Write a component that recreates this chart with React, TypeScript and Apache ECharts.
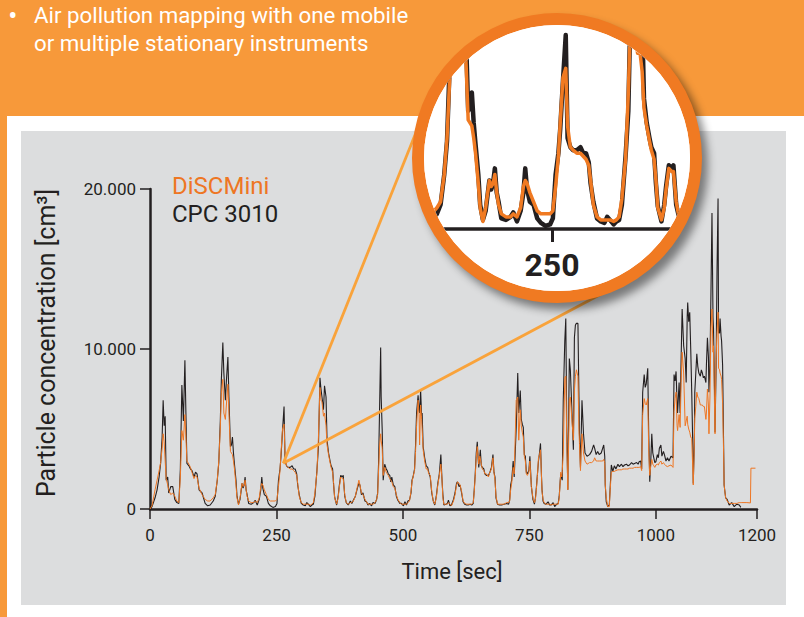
import React, { useEffect, useRef } from "react";
import * as echarts from "echarts";

// Time stamps in seconds (shared by both instruments)
const timeSec = [
  0, 4, 10, 14, 18, 21, 24, 26, 28, 30,
  32, 35, 37, 41, 45, 49, 53, 57, 60, 63,
  66, 69, 71, 73, 77, 80, 83, 87, 90, 93,
  97, 103, 109, 114, 119, 125, 129, 133, 136, 139,
  141, 144, 146, 149, 151, 154, 156, 159, 161, 163,
  165, 167, 170, 172, 175, 178, 182, 184, 186, 188,
  190, 192, 195, 200, 205, 208, 212, 216, 219, 221,
  223, 226, 230, 234, 238, 243, 248, 251, 254, 257,
  259, 262, 265, 267, 270, 273, 277, 281, 284, 287,
  290, 292, 295, 299, 303, 307, 310, 313, 317, 320,
  323, 326, 330, 333, 336, 338, 340, 343, 345, 348,
  350, 353, 356, 358, 361, 363, 365, 369, 372, 374,
  377, 380, 382, 385, 388, 392, 396, 399, 402, 406,
  410, 413, 415, 418, 421, 425, 428, 431, 434, 438,
  441, 445, 448, 450, 452, 454, 456, 457, 459, 461,
  464, 467, 469, 471, 474, 476, 478, 481, 484, 487,
  490, 494, 497, 501, 504, 507, 510, 513, 516, 518,
  520, 523, 525, 527, 530, 532, 533, 535, 537, 538,
  540, 543, 546, 549, 551, 554, 557, 560, 563, 566,
  569, 572, 575, 577, 579, 581, 585, 588, 590, 593,
  596, 600, 603, 606, 608, 611, 613, 616, 619, 622,
  626, 629, 633, 636, 639, 641, 643, 645, 647, 649,
  650, 652, 653, 655, 657, 660, 662, 665, 669, 672,
  675, 678, 680, 682, 684, 687, 691, 695, 700, 705,
  709, 711, 713, 715, 718, 720, 722, 724, 727, 729,
  732, 734, 736, 738, 740, 742, 744, 746, 749, 751,
  753, 754, 757, 760, 762, 764, 766, 768, 770, 772,
  774, 775, 777, 779, 783, 787, 790, 793, 797, 800,
  804, 807, 809, 811, 812, 814, 815, 817, 820, 822,
  824, 826, 829, 831, 834, 837, 839, 841, 843, 846,
  848, 849, 851, 854, 857, 860, 864, 869, 873, 877,
  879, 882, 885, 888, 892, 895, 897, 899, 900, 902,
  905, 908, 910, 912, 915, 918, 921, 925, 928, 932,
  935, 938, 942, 945, 948, 952, 955, 958, 962, 965,
  967, 970, 972, 974, 977, 979, 981, 984, 986, 988,
  990, 992, 994, 996, 998, 1000, 1003, 1005, 1007, 1010,
  1012, 1015, 1017, 1020, 1023, 1026, 1030, 1034, 1036, 1038,
  1040, 1042, 1043, 1046, 1048, 1050, 1052, 1055, 1058, 1060,
  1062, 1063, 1065, 1067, 1069, 1071, 1073, 1074, 1076, 1077,
  1079, 1081, 1083, 1085, 1088, 1090, 1092, 1094, 1096, 1099,
  1100, 1102, 1104, 1105, 1107, 1109, 1111, 1113, 1114, 1116,
  1117, 1119, 1121, 1123, 1124, 1126, 1127, 1129, 1130, 1132,
  1134, 1135, 1138, 1141, 1145, 1150, 1155, 1160, 1165, 1168,
  1170, 1180, 1187, 1188, 1197,
];

// CPC 3010 particle concentration [cm^-3]
const cpc3010 = [
  0, 150, 700, 1200, 2000, 2850, 4500, 6800, 5200, 5800,
  1800, 2000, 1000, 1400, 1400, 600, 400, 350, 2500, 7750,
  5500, 9300, 6000, 2850, 2700, 2500, 2400, 2000, 2300, 2200,
  1200, 1000, 350, 200, 250, 500, 800, 1800, 2900, 5500,
  8000, 10400, 8500, 6800, 8000, 9500, 7000, 3900, 4000, 4500,
  3500, 2800, 1800, 800, 300, 600, 1600, 1300, 1500, 2000,
  1200, 900, 350, 300, 400, 550, 250, 600, 1200, 2000,
  1300, 900, 800, 350, 200, 100, 150, 350, 1800, 2500,
  3300, 4900, 6400, 3000, 2700, 2600, 2600, 2700, 2500, 2500,
  2200, 1500, 900, 350, 250, 200, 400, 300, 150, 250,
  300, 800, 2400, 3900, 8200, 7500, 7000, 6200, 7700, 7000,
  4300, 3500, 3000, 2700, 2500, 1500, 750, 250, 800, 1400,
  2100, 2000, 2100, 800, 400, 250, 500, 350, 550, 800,
  1300, 1600, 1500, 900, 1000, 500, 450, 250, 350, 200,
  400, 350, 600, 1000, 3000, 6500, 10100, 7000, 5000, 1800,
  2800, 2500, 2400, 2200, 2100, 1700, 2000, 1500, 1400, 800,
  550, 350, 350, 200, 450, 250, 500, 550, 1000, 1800,
  2000, 2500, 4000, 6000, 7100, 6200, 6000, 7400, 5800, 6000,
  3900, 3200, 2700, 2600, 2300, 2000, 1000, 500, 250, 800,
  1600, 2200, 3400, 2000, 900, 250, 300, 350, 550, 200,
  250, 600, 1000, 1600, 1700, 1400, 1500, 1000, 450, 300,
  250, 250, 300, 250, 350, 1200, 2200, 3500, 4200, 3000,
  2600, 3300, 3700, 2700, 2600, 2500, 2200, 2100, 2100, 2300,
  2600, 3400, 2300, 2000, 700, 300, 250, 250, 300, 350,
  300, 550, 1500, 1800, 3000, 2000, 3500, 5100, 8500, 6000,
  7400, 5600, 5300, 5100, 3400, 3300, 2300, 2200, 2400, 3300,
  2000, 1400, 600, 300, 700, 1400, 2200, 3000, 3500, 4100,
  2000, 1200, 500, 350, 300, 450, 250, 250, 400, 150,
  300, 350, 800, 1800, 2200, 1900, 1800, 6800, 10500, 11900,
  4800, 1200, 9400, 8700, 6200, 3700, 10700, 11500, 11600, 11600,
  7000, 4700, 2600, 6800, 4700, 3500, 3300, 3400, 3600, 4000,
  3800, 3400, 3600, 3400, 3500, 3800, 4000, 3300, 1500, 450,
  150, 250, 1500, 2750, 2350, 2700, 2500, 2800, 2650, 2800,
  2650, 2750, 2800, 2700, 2750, 2900, 2800, 2850, 2900, 2800,
  2950, 3000, 2500, 7300, 8400, 7600, 7800, 8800, 4600, 1700,
  3000, 4700, 3500, 3200, 2900, 2950, 3400, 3200, 3800, 4000,
  3300, 3600, 3400, 3000, 3200, 3000, 3300, 3200, 8400, 8000,
  8600, 6600, 6000, 7900, 6000, 9400, 12500, 10200, 9400, 7900,
  12000, 12900, 11700, 12300, 10000, 7300, 4000, 1600, 4000, 7300,
  8500, 9700, 8900, 8500, 8300, 8700, 8500, 8200, 8300, 7900,
  9000, 10700, 9500, 7300, 9000, 13600, 18500, 12000, 11300, 7500,
  4800, 8600, 15000, 19400, 11000, 11000, 11900, 10800, 10500, 9000,
  4000, 1500, 700, 600, 250, 400, 150, 300, 250, 100,
  null, null, null, null, null,
];

// DiSCMini particle concentration [cm^-3]
const discMini = [
  0, 200, 1200, 1800, 2400, 2900, 3800, 4700, 4200, 3000,
  1900, 1500, 1200, 900, 1000, 800, 500, 400, 2000, 4900,
  4300, 5900, 4500, 3000, 2800, 2600, 2300, 1900, 2100, 2000,
  1300, 900, 600, 500, 500, 700, 900, 1800, 3000, 5000,
  7200, 8100, 6000, 5600, 6500, 7800, 6000, 3600, 3500, 3400,
  3000, 2500, 1500, 700, 250, 700, 1600, 1400, 1500, 1800,
  1200, 800, 500, 400, 400, 500, 400, 700, 1400, 1600,
  1500, 1200, 900, 600, 500, 500, 500, 600, 1400, 2400,
  3500, 5000, 5300, 3400, 2700, 2600, 2500, 2500, 2400, 2300,
  2100, 1600, 800, 400, 300, 300, 300, 300, 250, 300,
  400, 1000, 2300, 4500, 7600, 6800, 6700, 5800, 6000, 5200,
  4000, 3400, 2900, 2600, 2300, 1600, 700, 300, 700, 1300,
  2000, 1900, 1900, 900, 400, 300, 400, 400, 500, 800,
  1400, 1800, 1500, 1000, 900, 600, 450, 300, 300, 300,
  300, 400, 600, 900, 2500, 4000, 4700, 4300, 3800, 2100,
  2600, 2300, 2200, 2100, 1900, 1800, 1700, 1400, 1300, 900,
  600, 400, 300, 300, 300, 300, 400, 500, 1100, 1700,
  2000, 2400, 3600, 5200, 6800, 5900, 4000, 6500, 5600, 5000,
  3700, 3000, 2500, 2500, 2200, 2100, 1100, 500, 300, 700,
  1500, 2100, 2800, 2000, 700, 300, 300, 300, 400, 300,
  200, 500, 900, 1500, 1700, 1600, 1500, 1100, 500, 350,
  300, 300, 300, 300, 400, 1100, 2100, 3200, 3900, 3200,
  2800, 3300, 3300, 2800, 2500, 2400, 2200, 2200, 2000, 2300,
  2500, 3200, 2300, 1800, 800, 300, 300, 300, 300, 400,
  400, 500, 1200, 1600, 2600, 2200, 4500, 6800, 7000, 4300,
  6200, 5200, 4800, 4500, 3300, 3000, 2200, 2100, 2300, 3000,
  1900, 1400, 700, 400, 600, 1300, 2100, 3200, 3400, 3700,
  2000, 1100, 600, 400, 300, 300, 300, 250, 300, 300,
  300, 300, 700, 1700, 2300, 2000, 2400, 3500, 8200, 8300,
  4100, 1200, 6800, 7000, 5600, 4300, 7400, 8300, 8700, 8300,
  5000, 4100, 2400, 4700, 3500, 3000, 2800, 2900, 2900, 3000,
  3200, 3000, 3000, 3000, 3000, 3000, 3100, 2900, 1500, 700,
  150, 150, 1300, 2300, 2350, 2350, 2400, 2450, 2450, 2450,
  2500, 2500, 2500, 2500, 2550, 2550, 2550, 2600, 2600, 2600,
  2600, 2650, 2400, 5900, 6900, 6600, 6500, 6900, 3600, 2100,
  2700, 3100, 2800, 2700, 2600, 2750, 2800, 2750, 2900, 3000,
  2800, 2900, 2800, 2700, 2650, 2700, 2750, 2600, 6100, 6900,
  7300, 5200, 4900, 5900, 5100, 7900, 9800, 8500, 5200, 5500,
  5800, 5300, 5000, 4800, 4500, 4400, 2500, 1500, 4000, 5700,
  6400, 7300, 7000, 6900, 6500, 6500, 6500, 6400, 6400, 5600,
  6000, 7500, 6500, 4700, 7000, 11300, 12500, 9800, 10200, 6500,
  4700, 9400, 11000, 12300, 8800, 8700, 8500, 8300, 8100, 6600,
  3500, 1500, 700, 500, 350, 350, 350, 350, 400, 400,
  400, 400, 380, 2550, 2550,
];

const xTickValues = [0, 250, 500, 750, 1000, 1200];
const yTickValues = [0, 10000, 20000];
const zoomTickValues = [250];

const seriesNames = { disc: "DiSCMini", cpc: "CPC 3010" };
const headerLines = [
  "Air pollution mapping with one mobile",
  "or multiple stationary instruments",
];

const ORANGE = "#EE7623";
const BLACK = "#231F20";
const FONT = "Roboto";

function pairs(values: (number | null)[]) {
  return timeSec.map((t, i) => [t, values[i]]);
}

function fmt(v: number) {
  return v === 0 ? "0" : (v / 1000).toFixed(3);
}

export default function App() {
  const mainRef = useRef<HTMLDivElement>(null);
  const zoomRef = useRef<HTMLDivElement>(null);

  useEffect(() => {
    const main = echarts.init(mainRef.current!, null, { renderer: "svg" });
    const zoom = echarts.init(zoomRef.current!, null, { renderer: "svg" });

    const cpcData = pairs(cpc3010);
    const discData = pairs(discMini);

    main.setOption({
      animation: false,
      backgroundColor: "#F7993A",
      grid: { left: 150, right: 47, top: 189, bottom: 108, outerBoundsMode: "none", containLabel: false },
      xAxis: {
        type: "value",
        min: 0,
        max: 1200,
        axisLine: { show: true, lineStyle: { color: BLACK, width: 2.5 } },
        axisTick: {
          show: true,
          customValues: xTickValues,
          length: 10,
          lineStyle: { color: BLACK, width: 1.5 },
        },
        axisLabel: {
          customValues: xTickValues,
          formatter: (v: number) => String(v),
          color: BLACK,
          fontFamily: FONT,
          fontSize: 17,
          margin: 17,
        },
        splitLine: { show: false },
      },
      yAxis: {
        type: "value",
        min: 0,
        max: 20000,
        interval: 10000,
        axisLine: { show: true, lineStyle: { color: BLACK, width: 2.5 } },
        axisTick: {
          show: true,
          customValues: yTickValues,
          length: 10,
          lineStyle: { color: BLACK, width: 1.5 },
        },
        axisLabel: {
          customValues: yTickValues,
          formatter: (v: number) => fmt(v),
          color: BLACK,
          fontFamily: FONT,
          fontSize: 17,
          margin: 14,
        },
        splitLine: { show: false },
      },
      series: [
        {
          name: seriesNames.cpc,
          type: "line",
          data: cpcData,
          showSymbol: false,
          connectNulls: false,
          lineStyle: { color: BLACK, width: 1.1 },
          z: 3,
        },
        {
          name: seriesNames.disc,
          type: "line",
          data: discData,
          showSymbol: false,
          lineStyle: { color: ORANGE, width: 1 },
          z: 4,
        },
      ],
      graphic: [
        { type: "rect", z: -10, shape: { x: 7, y: 116, width: 797, height: 501 }, style: { fill: "#FFFFFF" } },
        { type: "rect", z: -9, shape: { x: 21, y: 131, width: 765, height: 474 }, style: { fill: "#DCDDDE" } },
        {
          type: "text", z: 20,
          style: { x: 12.7, y: 16, text: "•", fill: "#FFFFFF", font: `27px ${FONT}`, textAlign: "center", textVerticalAlign: "middle" },
        },
        {
          type: "text", z: 20, x: 34, y: 15.5, scaleX: 0.97,
          style: { x: 0, y: 0, text: headerLines[0], fill: "#FFFFFF", font: `23px ${FONT}`, textAlign: "left", textVerticalAlign: "middle" },
        },
        {
          type: "text", z: 20, x: 34, y: 43.5, scaleX: 0.97,
          style: { x: 0, y: 0, text: headerLines[1], fill: "#FFFFFF", font: `23px ${FONT}`, textAlign: "left", textVerticalAlign: "middle" },
        },
        {
          type: "text", z: 20,
          style: { x: 172, y: 186, text: seriesNames.disc, fill: ORANGE, font: `24px ${FONT}`, textAlign: "left", textVerticalAlign: "middle" },
        },
        {
          type: "text", z: 20,
          style: { x: 172, y: 214, text: seriesNames.cpc, fill: BLACK, font: `24px ${FONT}`, textAlign: "left", textVerticalAlign: "middle" },
        },
        {
          type: "text", z: 20,
          style: { x: 452, y: 571, text: "Time [sec]", fill: BLACK, font: `22px ${FONT}`, textAlign: "center", textVerticalAlign: "middle" },
        },
        {
          type: "text", z: 20, x: 46, y: 343, rotation: Math.PI / 2,
          style: { x: 0, y: 0, text: "Particle concentration [cm³]", fill: BLACK, font: `25px ${FONT}`, textAlign: "center", textVerticalAlign: "middle" },
        },
        {
          type: "line", z: 50,
          shape: { x1: 283.3, y1: 463.3, x2: 425, y2: 110 },
          style: { stroke: "#F9A33B", lineWidth: 2.8 },
        },
        {
          type: "line", z: 50,
          shape: { x1: 283.3, y1: 463.3, x2: 605, y2: 292 },
          style: { stroke: "#F9A33B", lineWidth: 2.8 },
        },
      ],
    });

    zoom.setOption({
      animation: false,
      backgroundColor: "#FFFFFF",
      grid: { left: 0, right: 0, top: 0, bottom: 62, outerBoundsMode: "none", containLabel: false },
      xAxis: {
        type: "value",
        min: 111,
        max: 400,
        axisLine: { show: true, onZero: false, lineStyle: { color: BLACK, width: 3.5 } },
        axisTick: {
          show: true,
          customValues: zoomTickValues,
          length: 13,
          lineStyle: { color: BLACK, width: 3 },
        },
        axisLabel: {
          customValues: zoomTickValues,
          formatter: (v: number) => String(v),
          color: BLACK,
          fontFamily: FONT,
          fontWeight: "bold",
          fontSize: 32,
          margin: 20,
        },
        splitLine: { show: false },
      },
      yAxis: {
        type: "value",
        min: 0,
        max: 6730,
        axisLine: { show: false },
        axisTick: { show: false },
        axisLabel: { show: false },
        splitLine: { show: false },
      },
      series: [
        {
          name: seriesNames.cpc,
          type: "line",
          data: cpcData,
          showSymbol: false,
          clip: false,
          lineStyle: { color: BLACK, width: 4.5, join: "round" },
          z: 3,
        },
        {
          name: seriesNames.disc,
          type: "line",
          data: discData,
          showSymbol: false,
          clip: false,
          lineStyle: { color: "#F07A22", width: 3.5, join: "round" },
          z: 4,
        },
      ],
    });

    return () => {
      main.dispose();
      zoom.dispose();
    };
  }, []);

  return (
    <div style={{ position: "fixed", left: 0, top: 0, width: 804, height: 617, overflow: "hidden" }}>
      <div ref={mainRef} style={{ position: "absolute", left: 0, top: 0, width: 804, height: 617 }} />
      <div
        style={{
          position: "absolute",
          left: 412,
          top: 13,
          width: 290,
          height: 290,
          boxSizing: "border-box",
          border: "12px solid #F07A22",
          borderRadius: "50%",
          overflow: "hidden",
          background: "#FFFFFF",
          boxShadow: "6px 7px 9px rgba(0,0,0,0.45)",
        }}
      >
        <div ref={zoomRef} style={{ width: 266, height: 266 }} />
      </div>
    </div>
  );
}
